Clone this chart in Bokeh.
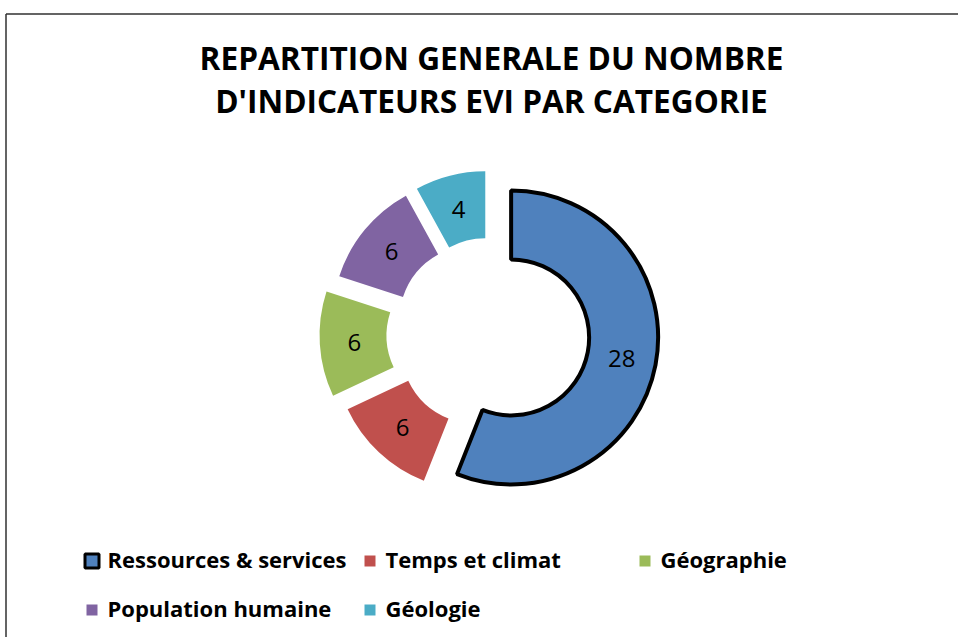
import numpy as np
from bokeh.plotting import figure
from bokeh.models import Range1d
from bokeh.embed import file_html
from bokeh.resources import INLINE
from bokeh.core.properties import value

# ---------------- data ----------------
title_lines = ["REPARTITION GENERALE DU NOMBRE", "D'INDICATEURS EVI PAR CATEGORIE"]
categories = ["Ressources & services", "Temps et climat", "Géographie",
              "Population humaine", "Géologie"]
counts = [28, 6, 6, 6, 4]
colors = ["#4F81BD", "#C0504D", "#9BBB59", "#8064A2", "#4BACC6"]

# ---------------- layout helpers (page pixel -> data) ----------------
W, H = 958, 637
PX0, PY0 = 0, 0


def X(px):
    return px - PX0


def Y(py):
    return H - (py - PY0)


p = figure(width=W, height=H, x_range=Range1d(0, W), y_range=Range1d(0, H),
           output_backend="svg", toolbar_location=None, min_border=0,
           x_axis_location=None, y_axis_location=None)
p.grid.visible = False
p.outline_line_color = None
p.background_fill_color = "white"
p.border_fill_color = "white"

# chart frame (top and left edges visible in the crop)
p.line(x=[X(5.5), X(W)], y=[Y(13.5), Y(13.5)], line_color="#303030", line_width=1.5)
p.line(x=[X(5.5), X(5.5)], y=[Y(13.5), Y(H)], line_color="#303030", line_width=1.5)

FONT = "Open Sans"

# ---------------- title ----------------
for k, line in enumerate(title_lines):
    p.text(x=[X(491)], y=[Y(57 + 43 * k)], text=[line],
           text_font=value(FONT), text_font_style="bold", text_font_size="31.6px",
           text_align="center", text_baseline="alphabetic", text_color="black")

# ---------------- donut ----------------
total = float(sum(counts))
theta = np.concatenate([[0.0], np.cumsum(counts)]) / total * 2 * np.pi  # clockwise from top
explode = [21, 21, 29, 21, 21]
cx, cy = X(490), Y(333)

for i, (cnt, col) in enumerate(zip(counts, colors)):
    t0, t1 = theta[i], theta[i + 1]
    mid = 0.5 * (t0 + t1)
    ox = cx + explode[i] * np.sin(mid)
    oy = cy + explode[i] * np.cos(mid)
    if i == 0:
        R, r = 147, 78
        lc, lw = "black", 4
    else:
        R, r = 142, 75
        lc, lw = None, 0
    p.annular_wedge(x=[ox], y=[oy], inner_radius=r, outer_radius=R,
                    start_angle=np.pi / 2 - t0, end_angle=np.pi / 2 - t1,
                    direction="clock", fill_color=col,
                    line_color=lc, line_width=lw)
    rm = 0.5 * (R + r) + (0 if i == 0 else -1)
    lx = ox + rm * np.sin(mid)
    ly = oy + rm * np.cos(mid)
    p.text(x=[lx], y=[ly], text=[str(cnt)], text_font=value(FONT),
           text_font_size="24px", text_align="center", text_baseline="middle",
           text_color="black")

# ---------------- legend ----------------
col_text_x = [107, 385, 660]
row_mid_y = [560.5, 609.5]
for i, (cat, col) in enumerate(zip(categories, colors)):
    c, rr = i % 3, i // 3
    tx = col_text_x[c]
    my = row_mid_y[rr]
    mx = tx - 15.5
    if i == 0:
        p.rect(x=[X(mx)], y=[Y(my)], width=14, height=14, fill_color=col,
               line_color="black", line_width=3)
    else:
        p.rect(x=[X(mx)], y=[Y(my)], width=11, height=11, fill_color=col,
               line_color=None)
    p.text(x=[X(tx)], y=[Y(my - 2)], text=[cat], text_font=value(FONT),
           text_font_style="bold", text_font_size="22px", text_align="left",
           text_baseline="middle", text_color="black")

open("out.html", "w").write(file_html(p, INLINE))
